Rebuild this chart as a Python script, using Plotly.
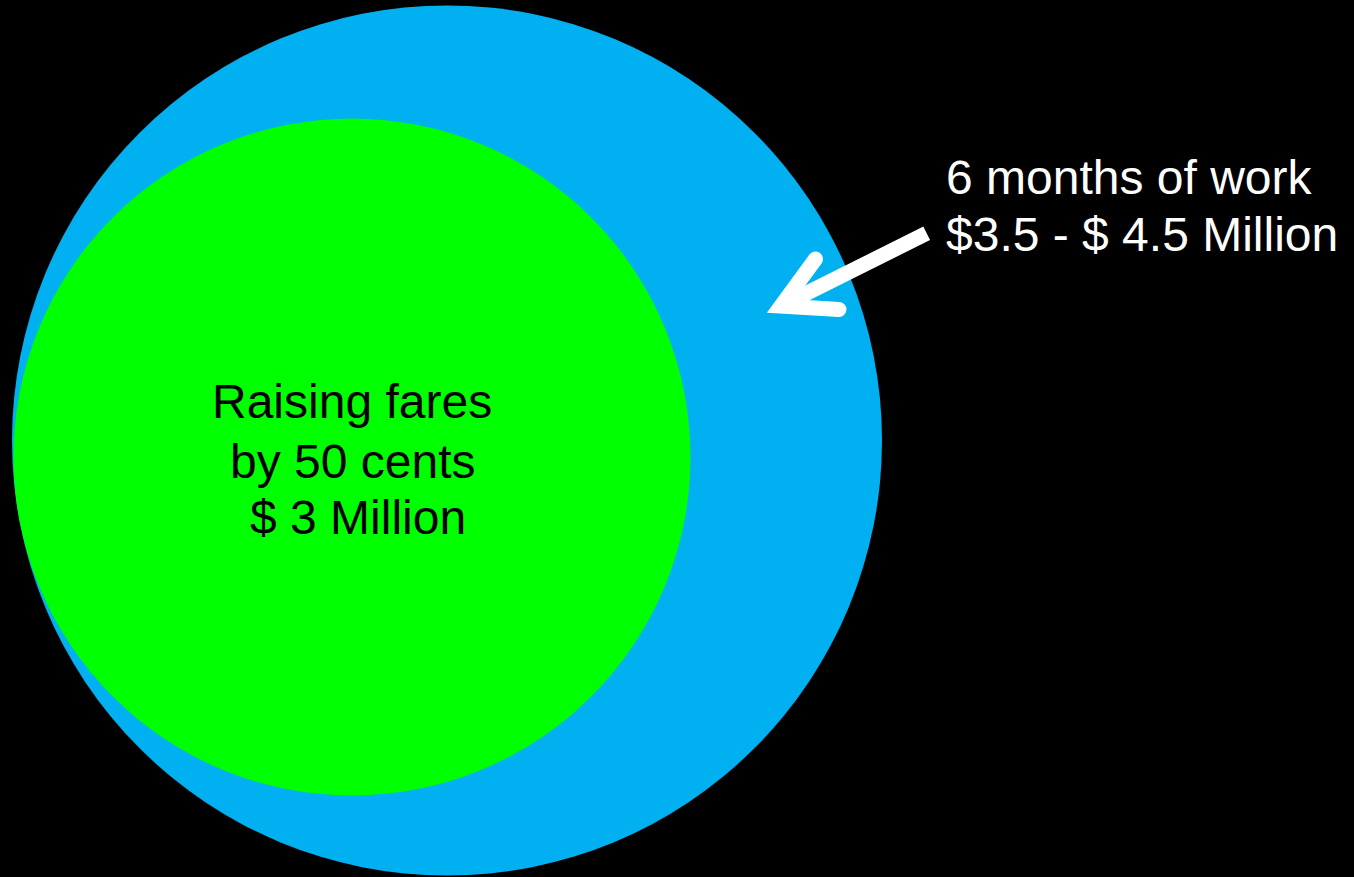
import numpy as np
import plotly.graph_objects as go

W, H = 1354, 877

# Text drawn on the figure, one entry per line
inner_label = ["Raising fares", "by 50 cents", "$ 3 Million"]
outer_label = ["6 months of work", "$3.5 - $ 4.5 Million"]

BLUE = "#00B0F0"
GREEN = "#00FF00"
FONT = "Liberation Sans, Arial, sans-serif"
FS = 48

# Circle geometry (pixel space, y grows downward)
outer_c = dict(cx=447, cy=440.5, r=435)
inner_c = dict(cx=352, cy=457, r=338.5)

fig = go.Figure()

shapes = []
for c, col in ((outer_c, BLUE), (inner_c, GREEN)):
    shapes.append(dict(type="circle", xref="x", yref="y",
                       x0=c["cx"] - c["r"], x1=c["cx"] + c["r"],
                       y0=c["cy"] - c["r"], y1=c["cy"] + c["r"],
                       fillcolor=col, line=dict(width=0), layer="below"))


# ---- arrow pointing from the label into the outer ring ----
def unit(v):
    v = np.asarray(v, float)
    return v / np.linalg.norm(v)


def perp(v):
    return np.array([-v[1], v[0]])


def path(pts):
    return "M " + " L ".join(f"{p[0]:.2f},{p[1]:.2f}" for p in pts) + " Z"


hw = 7.5
S0 = np.array([926.7, 233.3])   # tail of the shaft
V = np.array([781.0, 306.0])    # centreline vertex of the head
A = np.array([815.5, 259.0])    # upper barb end
B = np.array([839.0, 309.5])    # lower barb end

# shaft
us = unit(V - S0)
ns = perp(us)
shaft = [S0 + ns * hw, V + ns * hw, V - ns * hw, S0 - ns * hw]
shapes.append(dict(type="path", path=path(shaft), fillcolor="white",
                   line=dict(width=0)))

# head with mitred tip
u1, u2 = unit(A - V), unit(B - V)
b = unit(u1 + u2)
sin_half = abs(u1[0] * b[1] - u1[1] * b[0])
miter = hw / sin_half
tip_out = V - b * miter
tip_in = V + b * miter
n1 = perp(u1)
if np.dot(n1, u2) > 0:
    n1 = -n1
n2 = perp(u2)
if np.dot(n2, u1) > 0:
    n2 = -n2
head = [tip_out, A + n1 * hw, A - n1 * hw, tip_in, B - n2 * hw, B + n2 * hw]
shapes.append(dict(type="path", path=path(head), fillcolor="white",
                   line=dict(width=0)))
for P in (A, B):
    shapes.append(dict(type="circle", xref="x", yref="y",
                       x0=P[0] - hw, x1=P[0] + hw, y0=P[1] - hw, y1=P[1] + hw,
                       fillcolor="white", line=dict(width=0)))

# ---- labels ----
annotations = []
inner_pos = [(351.5, 401), (352, 461.5), (357.5, 517.5)]
for txt, (x, y) in zip(inner_label, inner_pos):
    annotations.append(dict(x=x, y=y, xref="x", yref="y", text=txt,
                            showarrow=False, xanchor="center", yanchor="middle",
                            font=dict(family=FONT, size=FS, color="black")))
outer_pos = [(944, 177), (944, 234)]
for txt, (x, y) in zip(outer_label, outer_pos):
    annotations.append(dict(x=x, y=y, xref="x", yref="y", text=txt,
                            showarrow=False, xanchor="left", yanchor="middle",
                            font=dict(family=FONT, size=FS, color="white")))

fig.update_layout(
    width=W, height=H,
    margin=dict(l=0, r=0, t=0, b=0),
    paper_bgcolor="black", plot_bgcolor="black",
    xaxis=dict(range=[0, W], visible=False, fixedrange=True),
    yaxis=dict(range=[H, 0], visible=False, fixedrange=True),
    shapes=shapes, annotations=annotations,
    showlegend=False,
)

fig.write_html("out.html", config={"displayModeBar": False})
